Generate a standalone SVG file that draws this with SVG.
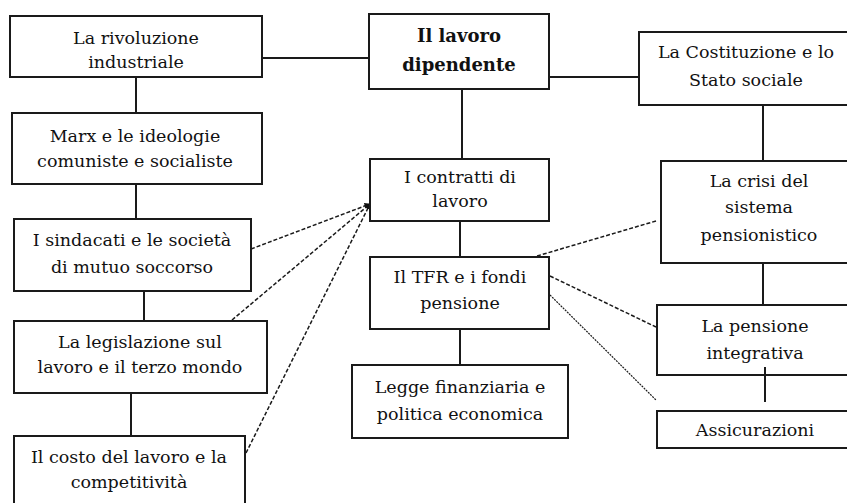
<svg xmlns="http://www.w3.org/2000/svg" width="847" height="503" viewBox="0 0 847 503">
<defs>
<style>
.box{fill:#fff;stroke:#1a1a1a;stroke-width:2}
.t{font-family:"DejaVu Serif","Liberation Serif",serif;font-size:17.5px;fill:#111;text-anchor:middle}
.b{font-family:"DejaVu Serif","Liberation Serif",serif;font-size:18px;font-weight:bold;fill:#111;text-anchor:middle}
.c{stroke:#1a1a1a;stroke-width:2;fill:none}
.d{stroke:#1a1a1a;stroke-width:1.5;stroke-dasharray:4 2;fill:none}
.f{stroke:#1a1a1a;stroke-width:1.2;stroke-dasharray:2 1;fill:none}
</style>
<marker id="ah" viewBox="0 0 10 10" refX="9" refY="5" markerWidth="6" markerHeight="6" orient="auto" markerUnits="userSpaceOnUse">
<path d="M0,0 L10,5 L0,10 z" fill="#111"/>
</marker>
</defs>
<rect width="847" height="503" fill="#fff"/>
<g id="connectors">
<line class="c" x1="262" y1="58" x2="369" y2="58"/>
<line class="c" x1="549" y1="77" x2="639" y2="77"/>
<line class="c" x1="462" y1="89" x2="462" y2="159"/>
<line class="c" x1="763" y1="105" x2="763" y2="161"/>
<line class="c" x1="136" y1="77" x2="136" y2="113"/>
<line class="c" x1="136" y1="184" x2="136" y2="219"/>
<line class="c" x1="144" y1="291" x2="144" y2="321"/>
<line class="c" x1="131" y1="393" x2="131" y2="436"/>
<line class="c" x1="460" y1="221" x2="460" y2="257"/>
<line class="c" x1="460" y1="329" x2="460" y2="365"/>
<line class="c" x1="763" y1="263" x2="763" y2="305"/>
<line class="d" x1="251" y1="249" x2="370" y2="204" marker-end="url(#ah)"/>
<line class="d" x1="232" y1="320" x2="370" y2="204" marker-end="url(#ah)"/>
<line class="d" x1="246" y1="453" x2="370" y2="204" marker-end="url(#ah)"/>
<line class="d" x1="656" y1="221" x2="537" y2="256"/>
<line class="d" x1="550" y1="276" x2="656" y2="327"/>
<line class="f" x1="550" y1="295" x2="656" y2="400"/>
</g>
<g id="n-rivoluzione">
<rect class="box" x="10" y="16" width="252" height="61"/>
<text class="t" x="136" y="44">La rivoluzione</text>
<text class="t" x="136" y="68">industriale</text>
</g>
<g id="n-lavoro">
<rect class="box" x="369" y="14" width="180" height="75"/>
<text class="b" x="459" y="42">Il lavoro</text>
<text class="b" x="459" y="71">dipendente</text>
</g>
<g id="n-costituzione">
<rect class="box" x="639" y="32" width="220" height="73"/>
<text class="t" x="746" y="58">La Costituzione e lo</text>
<text class="t" x="746" y="86">Stato sociale</text>
</g>
<g id="n-marx">
<rect class="box" x="12" y="113" width="250" height="71"/>
<text class="t" x="135" y="142">Marx e le ideologie</text>
<text class="t" x="135" y="167">comuniste e socialiste</text>
</g>
<g id="n-sindacati">
<rect class="box" x="14" y="219" width="237" height="72"/>
<text class="t" x="132" y="246">I sindacati e le società</text>
<text class="t" x="132" y="273">di mutuo soccorso</text>
</g>
<g id="n-legislazione">
<rect class="box" x="14" y="321" width="253" height="72"/>
<text class="t" x="140" y="348">La legislazione sul</text>
<text class="t" x="140" y="373">lavoro e il terzo mondo</text>
</g>
<g id="n-costo">
<rect class="box" x="14" y="436" width="231" height="80"/>
<text class="t" x="129" y="463">Il costo del lavoro e la</text>
<text class="t" x="129" y="488">competitività</text>
</g>
<g id="n-contratti">
<rect class="box" x="370" y="159" width="179" height="62"/>
<text class="t" x="460" y="183">I contratti di</text>
<text class="t" x="460" y="207">lavoro</text>
</g>
<g id="n-tfr">
<rect class="box" x="370" y="257" width="179" height="72"/>
<text class="t" x="460" y="283">Il TFR e i fondi</text>
<text class="t" x="460" y="309">pensione</text>
</g>
<g id="n-legge">
<rect class="box" x="352" y="365" width="216" height="73"/>
<text class="t" x="460" y="393">Legge finanziaria e</text>
<text class="t" x="460" y="420">politica economica</text>
</g>
<g id="n-crisi">
<rect class="box" x="661" y="161" width="200" height="102"/>
<text class="t" x="759" y="187">La crisi del</text>
<text class="t" x="759" y="213">sistema</text>
<text class="t" x="759" y="241">pensionistico</text>
</g>
<g id="n-pensione">
<rect class="box" x="657" y="305" width="200" height="70"/>
<text class="t" x="755" y="332">La pensione</text>
<text class="t" x="755" y="359">integrativa</text>
</g>
<g id="connector-pensione-assicurazioni">
<line class="c" x1="765" y1="367" x2="765" y2="402"/>
</g>
<g id="n-assicurazioni">
<rect class="box" x="657" y="411" width="200" height="37"/>
<text class="t" x="755" y="436">Assicurazioni</text>
</g>
</svg>
